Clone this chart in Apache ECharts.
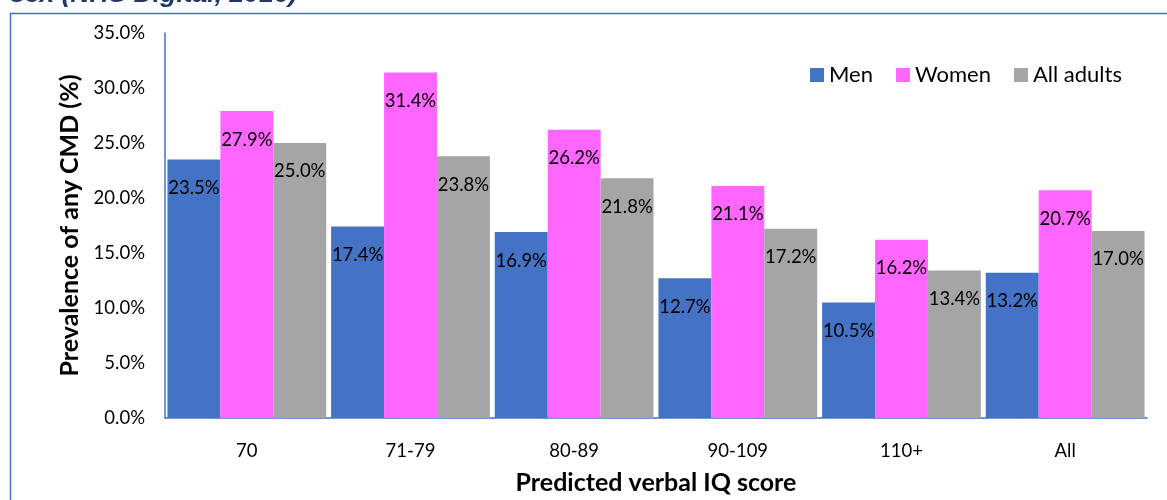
<!DOCTYPE html>
<html>
<head>
<meta charset="utf-8">
<script src="https://cdn.jsdelivr.net/npm/echarts@6/dist/echarts.min.js"></script>
<style>
  html, body { margin: 0; padding: 0; background: #ffffff; }
  #chart { width: 1167px; height: 500px; }
</style>
</head>
<body>
<div id="chart"></div>
<script>
// Prevalence of any common mental disorder by predicted verbal IQ score and sex
const categories = ['70', '71-79', '80-89', '90-109', '110+', 'All'];
const men = [23.5, 17.4, 16.9, 12.7, 10.5, 13.2];
const women = [27.9, 31.4, 26.2, 21.1, 16.2, 20.7];
const allAdults = [25.0, 23.8, 21.8, 17.2, 13.4, 17.0];
const yTicks = [0, 5, 10, 15, 20, 25, 30, 35];

const font = 'Lato, "Open Sans", sans-serif';
const frameBlue = '#4472C4';

const chart = echarts.init(document.getElementById('chart'), null, { renderer: 'canvas' });

function barSeries(name, data, color) {
  return {
    name: name,
    type: 'bar',
    data: data,
    barGap: '0%',
    barCategoryGap: '3%',
    itemStyle: { color: color },
    label: {
      show: true,
      position: 'insideTop',
      distance: 19,
      color: '#000000',
      fontFamily: font,
      fontSize: 18.5,
      formatter: p => p.value.toFixed(1) + '%'
    }
  };
}

chart.setOption({
  animation: false,
  backgroundColor: '#ffffff',
  graphic: [
    {
      type: 'polyline',
      shape: { points: [[10.5, 500], [10.5, 13.5], [1167, 13.5]] },
      style: { stroke: frameBlue, lineWidth: 1.5, fill: null },
      z: 10
    },
    {
      type: 'text',
      left: 10,
      top: -19,
      style: {
        text: 'sex (NHS Digital, 2016)',
        fill: '#1F3864',
        font: 'italic bold 26.5px "Liberation Sans", Arial, sans-serif'
      },
      z: 10
    }
  ],
  legend: {
    top: 59,
    left: 805,
    itemWidth: 14,
    itemHeight: 14,
    itemGap: 23,
    icon: 'rect',
    textStyle: { fontFamily: font, fontSize: 22, color: '#000000' },
    data: ['Men', 'Women', 'All adults']
  },
  grid: { left: 165, right: 20, top: 33, bottom: 73, containLabel: false },
  xAxis: {
    type: 'category',
    data: categories,
    name: 'Predicted verbal IQ score',
    nameLocation: 'middle',
    nameGap: 52,
    nameTextStyle: { fontFamily: font, fontSize: 25, fontWeight: 'bold', color: '#000000' },
    axisLine: { show: true, lineStyle: { color: frameBlue, width: 1.5 } },
    axisTick: { show: false },
    axisLabel: { fontFamily: font, fontSize: 18.5, color: '#000000', margin: 24 }
  },
  yAxis: {
    type: 'value',
    min: yTicks[0],
    max: yTicks[yTicks.length - 1],
    interval: 5,
    name: 'Prevalence of any CMD (%)',
    nameLocation: 'middle',
    nameGap: 82,
    nameTextStyle: { fontFamily: font, fontSize: 25, fontWeight: 'bold', color: '#000000' },
    axisLine: { show: true, lineStyle: { color: frameBlue, width: 1.5 } },
    axisTick: { show: false },
    splitLine: { show: false },
    axisLabel: {
      fontFamily: font,
      fontSize: 18.5,
      color: '#000000',
      margin: 20,
      formatter: v => v.toFixed(1) + '%'
    }
  },
  series: [
    barSeries('Men', men, '#4472C4'),
    barSeries('Women', women, '#FF66FF'),
    barSeries('All adults', allAdults, '#A5A5A5')
  ]
});
</script>
</body>
</html>
